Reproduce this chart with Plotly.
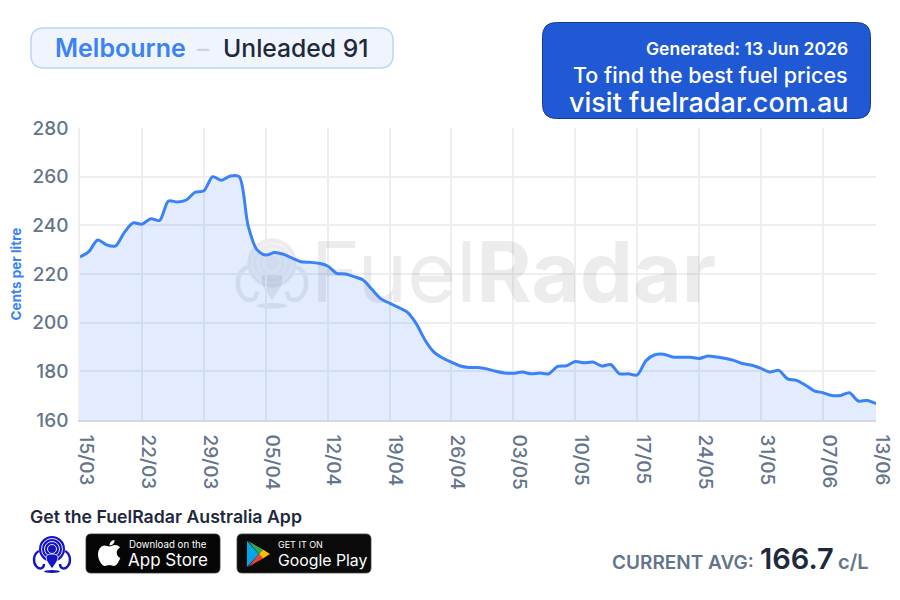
import re
from datetime import date, timedelta
import plotly.graph_objects as go

# Daily average price, 15 Mar to 13 Jun 2026, cents per litre
start_day = date(2026, 3, 15)
avg_price = [
    227.0, 229.2, 234.0, 232.0, 231.5, 237.0, 241.0, 240.5, 242.7, 242.0,
    250.0, 249.6, 250.4, 253.6, 254.2, 260.0, 258.5, 260.3, 260.0, 240.0,
    230.0, 227.8, 228.8, 228.1, 226.5, 225.0, 224.8, 224.4, 223.3, 220.3,
    220.0, 218.9, 217.5, 213.7, 209.9, 208.0, 206.3, 204.3, 199.7, 192.9,
    188.0, 185.5, 183.8, 182.2, 181.6, 181.6, 181.0, 180.0, 179.3, 179.2,
    179.7, 179.0, 179.3, 179.0, 182.0, 182.3, 184.0, 183.5, 183.8, 182.2,
    182.8, 179.0, 179.0, 178.5, 184.4, 186.8, 187.0, 185.9, 185.8, 185.8,
    185.3, 186.3, 185.9, 185.3, 184.4, 183.1, 182.5, 181.2, 179.7, 180.4,
    176.9, 176.3, 174.4, 172.0, 171.2, 170.1, 170.1, 171.2, 167.8, 168.0,
    166.7,
]
day_axis = [(start_day + timedelta(days=i)).isoformat() for i in range(len(avg_price))]

tick_dates = ["2026-03-15", "2026-03-22", "2026-03-29", "2026-04-05", "2026-04-12",
              "2026-04-19", "2026-04-26", "2026-05-03", "2026-05-10", "2026-05-17",
              "2026-05-24", "2026-05-31", "2026-06-07", "2026-06-13"]
tick_labels = ["15/03", "22/03", "29/03", "05/04", "12/04", "19/04", "26/04",
               "03/05", "10/05", "17/05", "24/05", "31/05", "07/06", "13/06"]
price_ticks = [160, 180, 200, 220, 240, 260, 280]

FONT = "Inter"
BLUE = "#3b82f6"
SLATE = "#64748b"
INK = "#1e293b"

# Plot area in page pixels; everything outside the axes is placed relative to it
PL, PR, PT, PB = 80, 876, 128, 420


def px(x):
    return (x - PL) / (PR - PL)


def py(y):
    return (PB - y) / (PB - PT)


def path_to_paper(d):
    """Turn a path written in page pixels into paper coordinates."""
    nums = iter(re.findall(r"[A-Za-z]|-?\d+\.?\d*", d))
    out = []
    for tok in nums:
        if tok.isalpha():
            out.append(tok)
        else:
            out.append(f"{px(float(tok)):.5f},{py(float(next(nums))):.5f}")
    return " ".join(out)


def round_rect(x0, y0, x1, y1, r):
    return (f"M {x0+r} {y0} L {x1-r} {y0} Q {x1} {y0} {x1} {y0+r} L {x1} {y1-r} "
            f"Q {x1} {y1} {x1-r} {y1} L {x0+r} {y1} Q {x0} {y1} {x0} {y1-r} "
            f"L {x0} {y0+r} Q {x0} {y0} {x0+r} {y0} Z")


shapes = []


def add_path(d, fill=None, line=None, width=0, layer="above", opacity=1):
    shapes.append(dict(type="path", xref="paper", yref="paper", path=path_to_paper(d),
                       fillcolor=fill or "rgba(0,0,0,0)",
                       line=dict(color=line or "rgba(0,0,0,0)", width=width),
                       layer=layer, opacity=opacity))


def add_ellipse(cx, cy, rx, ry, fill=None, line=None, width=0, layer="above", opacity=1):
    shapes.append(dict(type="circle", xref="paper", yref="paper",
                       x0=px(cx - rx), x1=px(cx + rx), y0=py(cy + ry), y1=py(cy - ry),
                       fillcolor=fill or "rgba(0,0,0,0)",
                       line=dict(color=line or "rgba(0,0,0,0)", width=width),
                       layer=layer, opacity=opacity))


def add_logo(cx, cy, s, color, ring, layer="above", opacity=1):
    """Radar-pin emblem: ringed disc, two arms, a pin and its shadow."""
    def pts(d):
        toks = re.findall(r"[A-Za-z]|-?\d+\.?\d*", d)
        out, is_x = [], True
        for t in toks:
            if t.isalpha():
                out.append(t)
            else:
                out.append(str(round((cx if is_x else cy) + float(t) * s, 2)))
                is_x = not is_x
        return " ".join(out)

    add_ellipse(cx, cy, 13 * s, 13 * s, fill=color, layer=layer, opacity=opacity)
    for r in (10.5, 7.5, 4.5):
        add_ellipse(cx, cy, r * s, r * s, line=ring, width=0.9 * s, layer=layer, opacity=opacity)
    add_path(pts("M -13 2 C -19 5 -19 13 -16 17 C -13 21 -8 20 -8 15"),
             line=color, width=2.4 * s, layer=layer, opacity=opacity)
    add_path(pts("M 13 2 C 19 5 19 13 16 17 C 13 21 8 20 8 15"),
             line=color, width=2.4 * s, layer=layer, opacity=opacity)
    add_path(pts("M -6 8 C -6 13 -2 16 0 20 C 2 16 6 13 6 8 C 6 4 -6 4 -6 8 Z"),
             fill=color, line=ring, width=0.8 * s, layer=layer, opacity=opacity)
    add_ellipse(cx, cy + 22.5 * s, 8 * s, 1.5 * s, fill=color, layer=layer, opacity=opacity)


annotations = []


def add_text(x, y, text, size, color, weight=400, anchor="left"):
    annotations.append(dict(xref="paper", yref="paper", x=px(x), y=py(y), text=text,
                            showarrow=False, xanchor=anchor, yanchor="middle",
                            font=dict(family=FONT, size=size, color=color, weight=weight)))


# Faint watermark emblem, under the price area
add_logo(272, 263, 1.9, "rgba(110,110,125,0.13)", "rgba(255,255,255,0.4)", layer="below")

# Title pill
add_path(round_rect(31, 28, 393, 68, 13), fill="#f0f5fd", line="#bcd5f6", width=1.5)
add_text(53, 48, "Melbourne", 25, BLUE, 600)
add_text(195, 48, "–", 24, "#cbd5e1", 500)
add_text(221, 48, "Unleaded 91", 24.7, INK, 500)

# Call-out box
add_path(round_rect(542.5, 22.5, 870.5, 118.5, 14), fill="#1f5ad4", line="#1a3a8c", width=1)
add_text(850, 48, "Generated: 13 Jun 2026", 17.5, "#ffffff", 600, "right")
add_text(850, 75, "To find the best fuel prices", 21.5, "#ffffff", 500, "right")
add_text(850, 102, "visit fuelradar.com.au", 27, "#ffffff", 500, "right")

# App promotion row
add_text(28, 516, "Get the FuelRadar Australia App", 17.7, INK, 600)
add_logo(52, 549, 1.0, "#1414c4", "#ffffff")

add_path(round_rect(86, 534, 220, 573, 5), fill="#050505", line="#333333", width=0.8)
add_path("M 109.5 546.5 C 111 546.5 113 545 115.5 545 C 117.5 545 119 546 120 547.5 "
         "C 117.5 549 116.5 551 116.8 553.5 C 117 555.5 118.5 557 120.3 558 "
         "C 119 561.5 116.5 566 114 566 C 112 566 111.5 565 109.5 565 "
         "C 107.5 565 106.5 566 104.8 566 C 102 566 98 560 98 554.5 "
         "C 98 549.5 101 545.5 104.5 545.5 C 106.5 545.5 108 546.5 109.5 546.5 Z", fill="#ffffff")
add_path("M 109.5 545.5 C 109.3 542.8 111.5 540.3 114.5 540 C 114.8 542.8 112.5 545.5 109.5 545.5 Z",
         fill="#ffffff")
add_text(127, 544, "Download on the", 9.7, "#ffffff", 400)
add_text(126, 560, "App Store", 17, "#ffffff", 400)

add_path(round_rect(237, 534, 371, 573, 5), fill="#0a0a0a", line="#444444", width=0.8)
add_path("M 247 541 L 259 554 L 247 567 Z", fill="#00a6e8")
add_path("M 248 541 L 263 549.5 L 259 554 Z", fill="#34a853")
add_path("M 248 567 L 263 558.5 L 259 554 Z", fill="#ea4335")
add_path("M 263 549.5 L 270 554 L 263 558.5 L 259 554 Z", fill="#fbbc04")
add_text(276, 544, "GET IT ON", 9, "#ffffff", 400)
add_text(276, 560, "Google Play", 15.8, "#ffffff", 400)

# Latest average
add_text(756, 562, "CURRENT AVG:", 19, SLATE, 600, "right")
add_text(758, 558, "166.7", 29, INK, 600)
add_text(836, 562, "c/L", 20, SLATE, 600)

fig = go.Figure()

# Wordmark goes in as the first trace so the price area sits on top of it
fig.add_trace(go.Scatter(
    x=["2026-05-03"], y=[217], mode="text", text=["Fuel<b>Radar</b>"],
    textposition="middle center", hoverinfo="skip", showlegend=False,
    textfont=dict(family=FONT, size=84, color="rgba(110,110,110,0.13)"),
))
fig.add_trace(go.Scatter(
    x=day_axis, y=avg_price, mode="lines", showlegend=False,
    line=dict(color=BLUE, width=3, shape="spline", smoothing=0.8),
    fill="tozeroy", fillcolor="rgba(59,130,246,0.15)",
))

fig.update_layout(
    width=900, height=600,
    margin=dict(l=PL, r=900 - PR, t=PT, b=600 - PB, autoexpand=False),
    paper_bgcolor="#ffffff", plot_bgcolor="#ffffff",
    font=dict(family=FONT, color=SLATE),
    shapes=shapes, annotations=annotations,
    xaxis=dict(
        range=[day_axis[0], day_axis[-1]], tickmode="array", tickvals=tick_dates,
        ticktext=tick_labels, tickangle=90, ticklabelstandoff=9, ticklabelshift=6,
        tickfont=dict(family=FONT, size=19, color=SLATE, weight=500),
        showgrid=True, gridcolor="#eeeef0", gridwidth=1.5,
        showline=True, linecolor="#d5d8e0", linewidth=1.5, zeroline=False, ticks="",
    ),
    yaxis=dict(
        range=[160, 280], tickmode="array", tickvals=price_ticks,
        ticklabelstandoff=6, tickfont=dict(family=FONT, size=19, color=SLATE, weight=500),
        showgrid=True, gridcolor="#eeeef0", gridwidth=1.5,
        showline=True, linecolor="#eeeef0", linewidth=1.5, zeroline=False, ticks="",
        title=dict(text="Cents per litre", standoff=7,
                   font=dict(family=FONT, size=13.5, color=BLUE, weight=700)),
    ),
)

fig.write_html("out.html")
